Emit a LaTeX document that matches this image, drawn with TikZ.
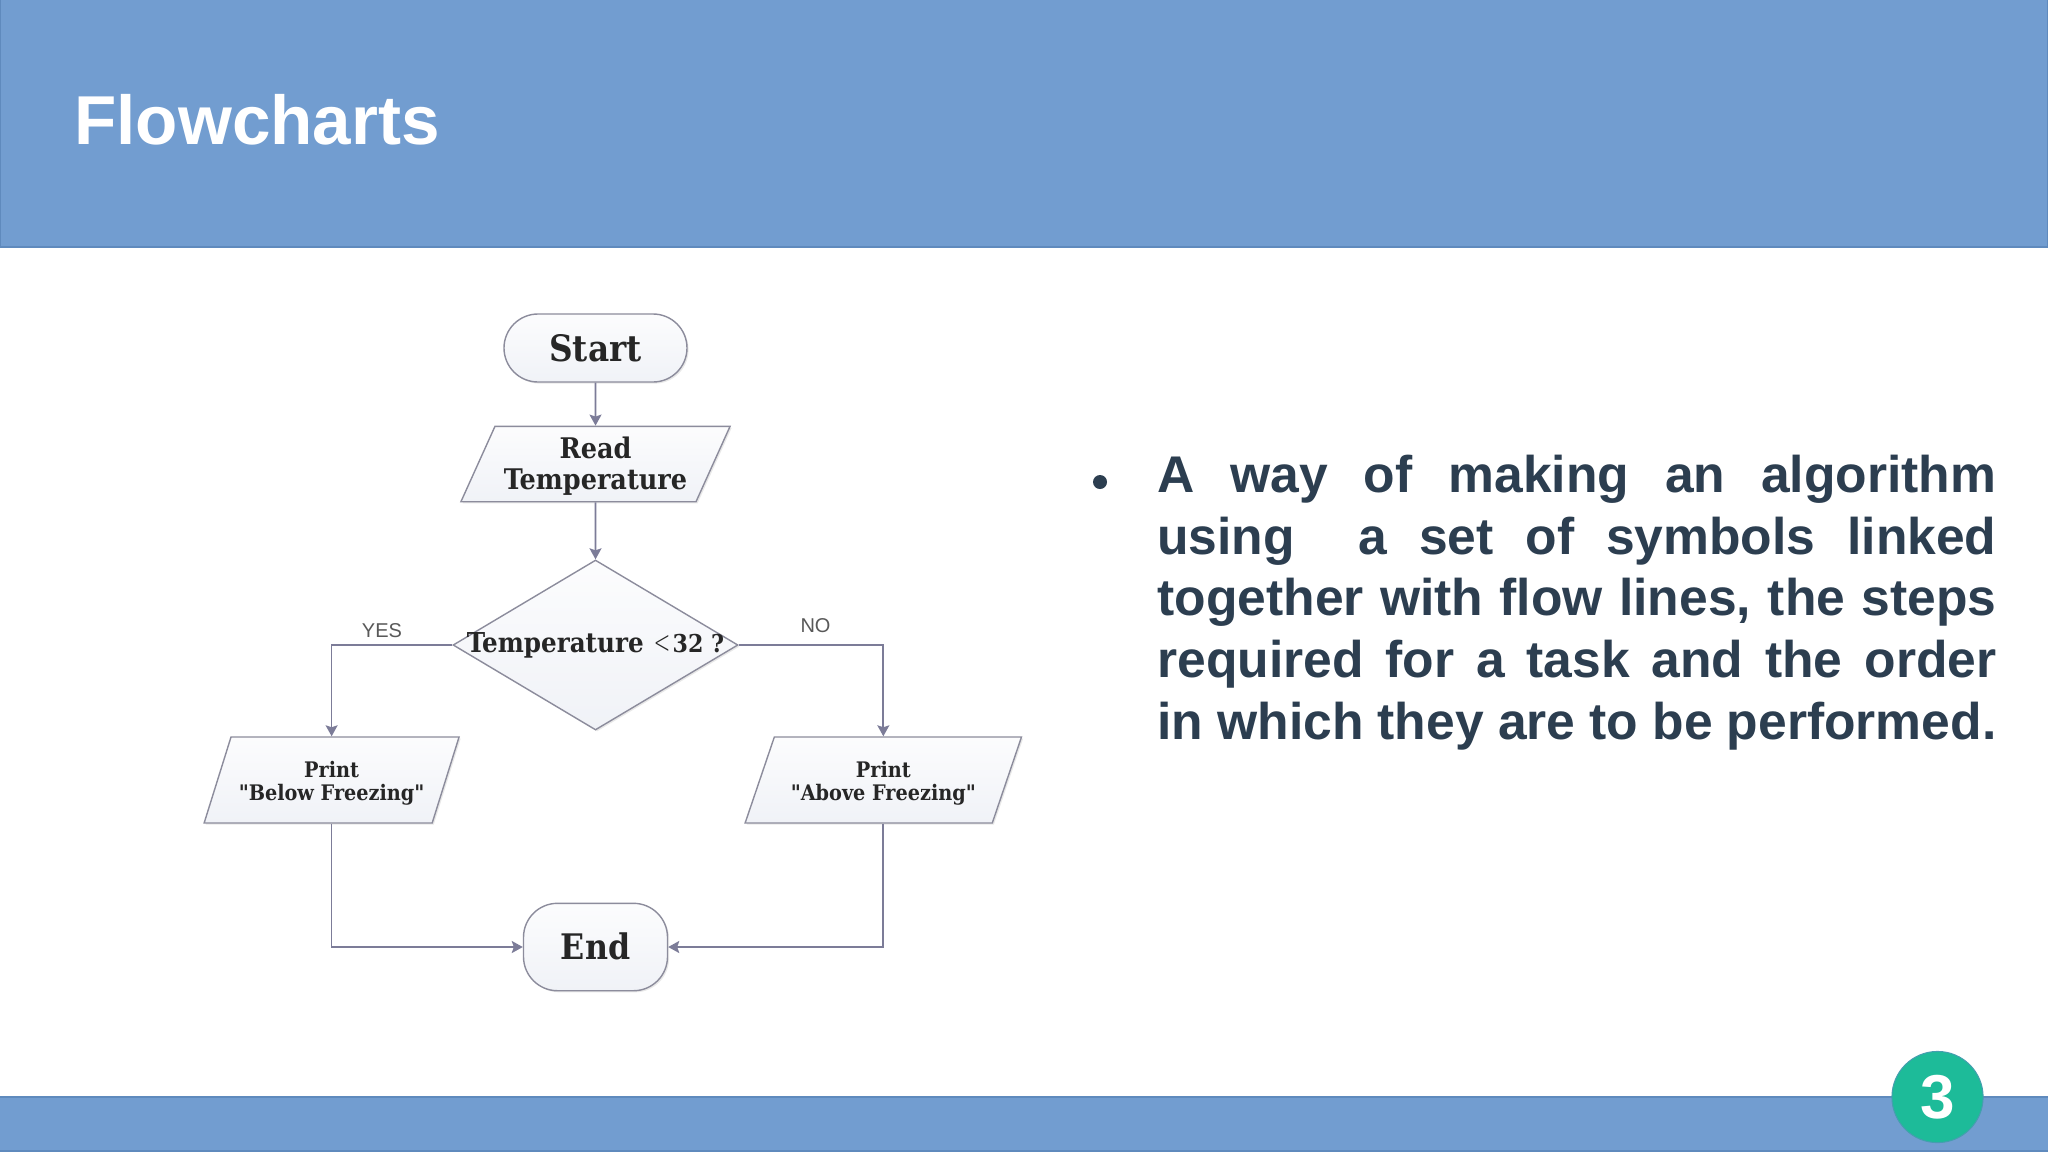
\documentclass[tikz,border=0pt]{standalone}
\usepackage{fontspec}
\setmainfont{Liberation Sans}
\newfontfamily\chartfont{DejaVu Serif Condensed Bold}
\newcommand\droptext[1]{\rule{0pt}{#1}}
\usetikzlibrary{arrows.meta,shapes.geometric,shadows}
\definecolor{barblue}{HTML}{729DD0}
\definecolor{baredge}{HTML}{5F8ABD}
\definecolor{bodyink}{HTML}{2C3E50}
\definecolor{badgegreen}{HTML}{1DBB99}
\definecolor{flowline}{HTML}{7C7C98}
\definecolor{boxedge}{HTML}{8C8C9C}
\definecolor{boxfill}{HTML}{F0F2F7}
\tikzset{
  boxlook/.style={draw=boxedge,line width=0.7pt,top color=white!80!boxfill,bottom color=boxfill,
    drop shadow={shadow xshift=0.8pt,shadow yshift=-0.8pt,opacity=0.18,fill=black!50},
    text=black!85,inner sep=0pt,font=\chartfont,align=center},
  terminal/.style={boxlook,rectangle,rounded corners=17pt},
  iobox/.style={boxlook,trapezium,trapezium left angle=63.5,trapezium right angle=116.5,
    trapezium stretches=true},
  decbox/.style={boxlook,diamond},
  flow/.style={draw=flowline,line width=0.85pt,-{Stealth[length=5.5pt,width=6pt,inset=1pt]}},
  branch/.style={font=\fontsize{10}{12}\selectfont,text=black!65,inner sep=0pt}
}
\begin{document}
\begin{tikzpicture}[x=0.5pt,y=-0.5pt]
  \useasboundingbox (0,0) rectangle (2048,1152);
  % bars
  \fill[white] (0,0) rectangle (2048,1152);
  \draw[fill=barblue,draw=baredge,line width=0.6pt] (0,-2) rectangle (2048,247);
  \draw[fill=barblue,draw=baredge,line width=0.6pt] (-2,1097) rectangle (2050,1151);
  \node[anchor=base west,inner sep=0pt,text=white,font=\fontsize{34.6}{40}\selectfont\bfseries] (title) at (74,144.5) {Flowcharts};

  % flowchart
  \node[terminal,minimum width=91.5pt,minimum height=34pt,font=\chartfont\fontsize{18.2}{22}\selectfont] (start) at (595.5,348) {Start};
  \node[iobox,minimum width=134.6pt,minimum height=37.7pt,font=\chartfont\fontsize{14.2}{15.5}\selectfont] (read) at (595.5,464) {\droptext{12.7pt}Read\\Temperature};
  \node[decbox,minimum width=142.5pt,minimum height=85pt,font=\chartfont\fontsize{13.7}{16}\selectfont] (check) at (595.5,645) {\makebox[0pt]{\raisebox{-1.3pt}{Temperature\kern5pt{\fontspec{DejaVu Sans ExtraLight}\fontsize{14}{14}\selectfont\raisebox{-0.5pt}{\scalebox{0.72}[1.15]{<}}}\kern1pt{\fontsize{12.3}{16}\selectfont 32 ?}}}};
  \node[iobox,minimum width=127.5pt,minimum height=43pt,font=\chartfont\fontsize{10.7}{11.5}\selectfont] (below) at (331.6,780) {\droptext{11pt}Print\\"Below Freezing"};
  \node[iobox,minimum width=138.3pt,minimum height=43pt,font=\chartfont\fontsize{10.7}{11.5}\selectfont] (above) at (883.3,780) {\droptext{11pt}Print\\"Above Freezing"};
  \node[terminal,minimum width=72pt,minimum height=43.7pt,font=\chartfont\fontsize{17.6}{20}\selectfont] (end) at (595.5,947) {\raisebox{0.6pt}{End}};

  \draw[flow] (start.south) -- (read.north);
  \draw[flow] (read.south) -- (check.north);
  \draw[flow] (check.west) -| (below.north);
  \draw[flow] (check.east) -| (above.north);
  \draw[flow] (below.south) |- (end.west);
  \draw[flow] (above.south) |- (end.east);
  \node[branch] (yes) at (382,631) {YES};
  \node[branch] (no) at (815.5,626) {NO};

  % text
  \node[circle,fill=bodyink,inner sep=0pt,minimum size=7pt] (dot) at (1100,482) {};
  \node[anchor=north west,inner sep=0pt,text width=419.5pt,align=justify,text=bodyink,
    font=\fontsize{25.8}{30.9}\selectfont\bfseries] (body) at (1157,454.5)
    {\parfillskip=0pt A way of making an algorithm\linebreak
     using\ \ a set of symbols linked\linebreak
     together with flow lines, the steps\linebreak
     required for a task and the order\linebreak
     in which they are to be performed.};

  % page number
  \node[circle,draw=baredge!60!badgegreen,line width=0.5pt,fill=badgegreen,minimum size=45.6pt,inner sep=0pt,text=white,
    font=\fontsize{31}{34}\selectfont\bfseries] (page) at (1937.5,1097) {3};
\end{tikzpicture}
\end{document}
